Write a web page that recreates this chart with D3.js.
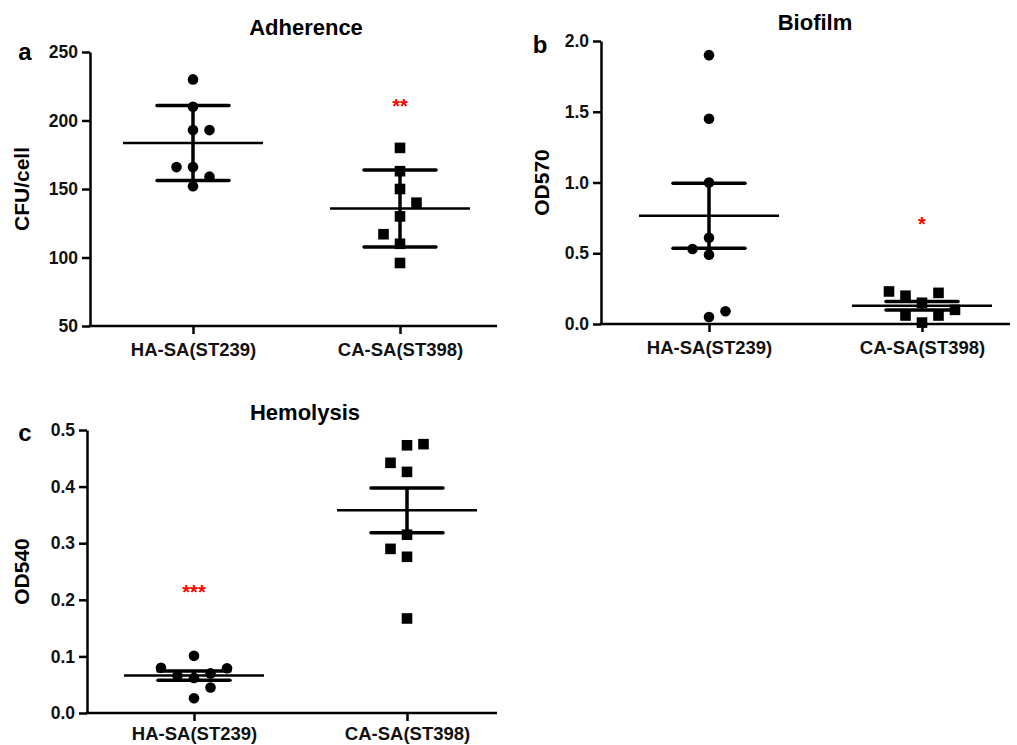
<!DOCTYPE html>
<html>
<head>
<meta charset="utf-8">
<script src="https://cdn.jsdelivr.net/npm/d3@7"></script>
<style>
  body { margin: 0; background: #fff; }
  svg { display: block; font-family: "Liberation Sans", Arial, sans-serif; }
</style>
</head>
<body>
<svg id="chart" width="1017" height="745"></svg>
<script>
// Groups (x categories)
const groups = ["HA-SA(ST239)", "CA-SA(ST398)"];

// Adherence (CFU/cell)
const adhHA = [230, 210, 193, 193, 166, 166, 159, 152];
const adhCA = [180, 163, 150, 140, 130, 117, 110, 96];
// Biofilm (OD570)
const bioHA = [1.9, 1.45, 1.0, 0.61, 0.53, 0.49, 0.09, 0.05];
const bioCA = [0.23, 0.2, 0.22, 0.15, 0.1, 0.06, 0.06, 0.01];
// Hemolysis (OD540)
const hemHA = [0.101, 0.08, 0.079, 0.07, 0.066, 0.062, 0.045, 0.026];
const hemCA = [0.475, 0.473, 0.442, 0.426, 0.315, 0.29, 0.276, 0.167];

// scatter columns (GraphPad-style spreading of overlapping points)
const adhHASlot = [0, 0, 0, 1, -1, 0, 1, 0];
const adhCASlot = [0, 0, 0, 1, 0, -1, 0, 0];
const bioHASlot = [0, 0, 0, 0, -1, 0, 1, 0];
const bioCASlot = [-2, -1, 1, 0, 2, -1, 1, 0];
const hemHASlot = [0, -2, 2, 1, -1, 0, 1, 0];
const hemCASlot = [1, 0, -1, 0, 0, -1, 0, 0];

// Tick labels
const adhTicks = [50, 100, 150, 200, 250];
const bioTicks = [0, 0.5, 1.0, 1.5, 2.0];
const hemTicks = [0, 0.1, 0.2, 0.3, 0.4, 0.5];

const panels = [
    { letter: "a", title: "Adherence", ylab: "CFU/cell", domain: [50, 250], ticks: adhTicks, fmt: d3.format("d"),
      err: "sd", series: [[adhHA, adhHASlot], [adhCA, adhCASlot]], star: "**", starGroup: 1, starVal: 214,
      axisX: 90, top: 52, bottom: 326, right: 497, gx: [193, 400], titleX: 306, titleY: 35,
      letterX: 25, letterY: 60, ylabX: 29, xPad: 5 },
    { letter: "b", title: "Biofilm", ylab: "OD570", domain: [0, 2], ticks: bioTicks, fmt: d3.format(".1f"),
      err: "sem", series: [[bioHA, bioHASlot], [bioCA, bioCASlot]], star: "*", starGroup: 1, starVal: 0.74,
      axisX: 601, top: 41, bottom: 324, right: 1010, gx: [709, 922], titleX: 815, titleY: 30,
      letterX: 540, letterY: 53, ylabX: 549, xPad: 5 },
    { letter: "c", title: "Hemolysis", ylab: "OD540", domain: [0, 0.5], ticks: hemTicks, fmt: d3.format(".1f"),
      err: "sem", series: [[hemHA, hemHASlot], [hemCA, hemCASlot]], star: "***", starGroup: 0, starVal: 0.222,
      axisX: 87, top: 430, bottom: 713, right: 497, gx: [194, 407], titleX: 305, titleY: 420,
      letterX: 25, letterY: 441, ylabX: 29, xPad: 2 }
];

const svg = d3.select("#chart");
const SLOT = 16.5;

function meanErr(vals, kind) {
    const m = d3.mean(vals);
    const sd = d3.deviation(vals);
    return [m, kind === "sd" ? sd : sd / Math.sqrt(vals.length)];
}

panels.forEach(p => {
    const g = svg.append("g");
    const y = d3.scaleLinear().domain(p.domain).range([p.bottom, p.top]);
    const x = d3.scalePoint().domain(groups).range(p.gx);

    // y axis
    const ya = g.append("g")
        .attr("transform", `translate(${p.axisX},0)`)
        .call(d3.axisLeft(y).tickValues(p.ticks).tickFormat(p.fmt).tickSize(8).tickSizeOuter(0).tickPadding(4));
    ya.select(".domain").attr("stroke-width", 2.5);
    ya.selectAll(".tick line").attr("stroke-width", 2.5);
    ya.selectAll("text").attr("font-size", 17.5).attr("font-weight", "bold").attr("fill", "#111");

    // x axis
    const xa = g.append("g")
        .attr("transform", `translate(0,${p.bottom})`)
        .call(d3.axisBottom(x).tickSize(8).tickPadding(p.xPad));
    xa.select(".domain").remove();
    xa.selectAll(".tick line").attr("stroke-width", 2.5);
    xa.selectAll("text").attr("font-size", 18.5).attr("font-weight", "bold").attr("fill", "#111").attr("dy", "0.9em");
    g.append("line")
        .attr("x1", p.axisX - 1.25).attr("x2", p.right)
        .attr("y1", p.bottom).attr("y2", p.bottom)
        .attr("stroke", "#000").attr("stroke-width", 2.5);

    // titles
    g.append("text").attr("x", p.titleX).attr("y", p.titleY)
        .attr("text-anchor", "middle").attr("font-size", 22).attr("font-weight", "bold")
        .text(p.title);
    g.append("text").attr("x", p.letterX).attr("y", p.letterY)
        .attr("text-anchor", "middle").attr("font-size", 24).attr("font-weight", "bold")
        .text(p.letter);
    g.append("text")
        .attr("transform", `translate(${p.ylabX},${(p.top + p.bottom) / 2}) rotate(-90)`)
        .attr("text-anchor", "middle").attr("font-size", 21).attr("font-weight", "bold")
        .text(p.ylab);

    // points + error bars
    p.series.forEach(([vals, slots], i) => {
        const cx = x(groups[i]);
        const [m, e] = meanErr(vals, p.err);

        g.append("line")
            .attr("x1", cx).attr("x2", cx).attr("y1", y(m - e)).attr("y2", y(m + e))
            .attr("stroke", "#000").attr("stroke-width", 3.5);
        [m - e, m + e].forEach(v => {
            g.append("line")
                .attr("x1", cx - 36).attr("x2", cx + 36).attr("y1", y(v)).attr("y2", y(v))
                .attr("stroke", "#000").attr("stroke-width", 3.5).attr("stroke-linecap", "round");
        });

        if (i === 0) {
            g.selectAll(null).data(vals).enter().append("circle")
                .attr("cx", (d, k) => cx + slots[k] * SLOT)
                .attr("cy", d => y(d))
                .attr("r", 5.3)
                .attr("fill", "#000");
        } else {
            g.selectAll(null).data(vals).enter().append("rect")
                .attr("x", (d, k) => cx + slots[k] * SLOT - 5.3)
                .attr("y", d => y(d) - 5.3)
                .attr("width", 10.6).attr("height", 10.6)
                .attr("fill", "#000");
        }

        g.append("line")
            .attr("x1", cx - 70).attr("x2", cx + 70).attr("y1", y(m)).attr("y2", y(m))
            .attr("stroke", "#000").attr("stroke-width", 2.5);
    });

    // significance
    g.append("text")
        .attr("x", x(groups[p.starGroup])).attr("y", y(p.starVal) + 12)
        .attr("text-anchor", "middle").attr("font-size", 20).attr("font-weight", "bold")
        .attr("fill", "#ff0000")
        .text(p.star);
});
</script>
</body>
</html>
